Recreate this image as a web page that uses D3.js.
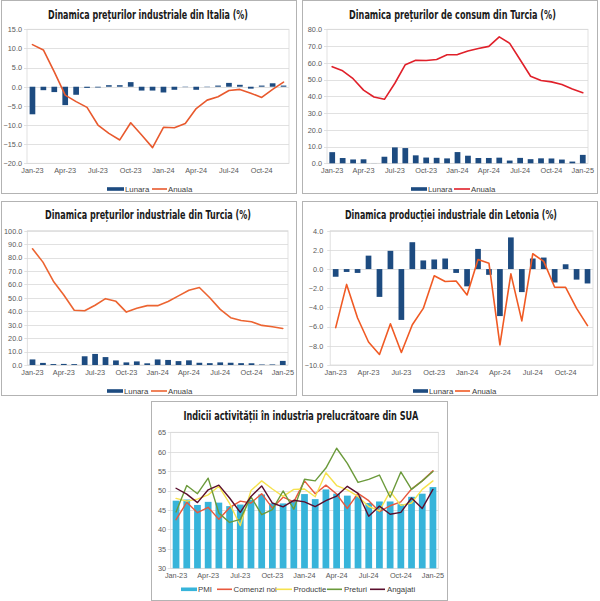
<!DOCTYPE html>
<html>
<head>
<meta charset="utf-8">
<script src="https://cdn.jsdelivr.net/npm/d3@7/dist/d3.min.js"></script>
<style>
  html, body { margin: 0; padding: 0; background: #ffffff; }
  svg { display: block; }
</style>
</head>
<body>
<svg id="chart" width="600" height="601"></svg>
<script>
// ---------- DATA ----------
const catsToDec24 = ["Jan-23","Feb-23","Mar-23","Apr-23","May-23","Jun-23","Jul-23","Aug-23","Sep-23","Oct-23","Nov-23","Dec-23",
  "Jan-24","Feb-24","Mar-24","Apr-24","May-24","Jun-24","Jul-24","Aug-24","Sep-24","Oct-24","Nov-24","Dec-24"];
const catsToJan25 = ["Jan-23","Feb-23","Mar-23","Apr-23","May-23","Jun-23","Jul-23","Aug-23","Sep-23","Oct-23","Nov-23","Dec-23",
  "Jan-24","Feb-24","Mar-24","Apr-24","May-24","Jun-24","Jul-24","Aug-24","Sep-24","Oct-24","Nov-24","Dec-24","Jan-25"];
const tickLabelsToOct24 = ["Jan-23","Apr-23","Jul-23","Oct-23","Jan-24","Apr-24","Jul-24","Oct-24"];
const tickLabelsToJan25 = ["Jan-23","Apr-23","Jul-23","Oct-23","Jan-24","Apr-24","Jul-24","Oct-24","Jan-25"];

// Italia - preturi industriale
const italyLunara = [-7.2,-0.9,-1.4,-4.8,-2.1,-0.3,-0.2,0.4,0.4,1.2,-1.0,-1.0,-1.5,-0.8,-0.1,-0.8,-0.1,0.3,1.0,0.5,-0.5,0.3,0.9,0.3];
const italyAnuala = [11.0,9.6,3.9,-2.2,-3.9,-5.4,-10.0,-12.2,-13.9,-9.4,-12.6,-15.9,-10.6,-10.7,-9.6,-5.7,-3.5,-2.6,-1.0,-0.7,-1.7,-2.8,-0.7,1.2];

// Turcia - preturi de consum
const turCpiLunara = [6.65,3.15,2.29,2.39,0.04,3.92,9.49,9.09,4.75,3.43,3.28,2.93,6.70,4.53,3.16,3.18,3.37,1.64,3.23,2.47,2.97,2.88,2.24,1.03,5.03];
const turCpiAnuala = [57.7,55.2,50.5,43.7,39.6,38.2,47.8,58.9,61.5,61.4,62.0,64.8,64.9,67.1,68.5,69.8,75.5,71.6,61.8,52.0,49.4,48.6,47.1,44.4,42.1];

// Turcia - preturi industriale
const turPpiLunara = [4.15,1.56,0.69,0.81,0.65,6.50,8.23,5.89,3.40,1.94,2.68,1.25,4.14,3.76,2.89,3.48,1.67,1.38,1.94,1.68,1.37,1.29,0.36,0.40,3.06];
const turPpiAnuala = [86.5,76.6,62.4,52.1,40.8,40.4,44.5,49.4,47.4,39.4,42.3,44.2,44.2,47.3,51.5,55.7,57.7,50.1,41.4,35.2,33.1,32.2,29.5,28.5,27.2];

// Letonia - productia industriala
const latviaLunara = [-0.8,-0.3,-0.4,1.4,-2.9,1.9,-5.3,2.8,0.9,1.0,1.1,-0.4,-1.8,2.1,-0.6,-4.9,3.3,-2.4,1.1,1.2,-1.4,0.5,-1.1,-1.5];
const latviaAnuala = [-6.1,-1.6,-5.1,-7.6,-8.9,-5.7,-8.7,-5.8,-4.1,-0.7,-1.3,-1.25,-2.7,1.0,0.6,-7.9,-0.5,-5.4,1.6,0.8,-1.9,-1.9,-4.1,-5.9];

// SUA - industria prelucratoare
const usPMI        = [47.4,47.7,46.3,47.1,46.9,46.0,46.4,47.6,49.0,46.7,46.7,47.4,49.1,47.8,50.3,49.2,48.7,48.5,46.8,47.2,47.2,46.5,48.4,49.2,50.9];
const usComenzi    = [42.5,47.0,44.3,45.7,42.6,45.6,47.3,46.8,49.2,45.5,48.3,47.1,52.5,49.2,51.4,49.1,45.4,49.3,47.4,44.6,46.1,47.1,50.4,52.5,55.1];
const usProductie  = [48.0,47.3,47.8,48.9,51.1,46.7,41.0,50.0,52.5,50.4,48.5,50.3,50.4,48.4,54.6,51.3,50.2,48.5,45.9,44.8,49.8,46.2,46.8,50.3,52.5];
const usPreturi    = [44.5,51.3,49.2,53.2,44.2,41.8,42.6,48.4,43.8,45.1,49.9,45.2,52.9,52.5,55.8,60.9,57.0,52.1,52.9,54.0,48.3,54.8,50.3,52.5,54.9];
const usAngajati   = [50.6,49.1,46.9,50.2,51.4,48.1,44.4,48.5,51.2,46.8,45.8,47.5,47.1,45.9,47.4,48.6,51.1,49.3,43.4,46.0,43.9,44.4,48.1,45.4,50.3];

// ---------- DRAWING ----------
const svg = d3.select("#chart");
const FONT = "'Liberation Sans', Arial, sans-serif";
const TITLE_FONT = "'DejaVu Sans Condensed', 'Liberation Sans Narrow', 'Liberation Sans', sans-serif";
const BAR_BLUE = "#1d4b80";

function drawPanel(cfg) {
  const g = svg.append("g");
  // frame
  g.append("rect")
    .attr("x", cfg.box[0] + 0.5).attr("y", cfg.box[1] + 0.5)
    .attr("width", cfg.box[2] - cfg.box[0]).attr("height", cfg.box[3] - cfg.box[1])
    .attr("fill", "#fff").attr("stroke", "#b3b3b3").attr("stroke-width", 1);

  // title (horizontally condensed to the reference width)
  const tg = g.append("g").attr("transform", `translate(${cfg.titleX},${cfg.titleY})`);
  const tt = tg.append("text")
    .attr("x", 0).attr("y", 0)
    .attr("text-anchor", "middle")
    .attr("font-family", TITLE_FONT).attr("font-weight", "bold")
    .attr("font-size", 13).attr("fill", "#1a1a1a")
    .text(cfg.title);
  const w = tt.node().getComputedTextLength();
  if (w > 0) tt.attr("transform", `scale(${cfg.titleW / w},1)`);

  const y = d3.scaleLinear().domain(cfg.yDomain).range([cfg.bottom, cfg.top]);
  const x = d3.scaleBand().domain(cfg.cats).range([cfg.left, cfg.right]).paddingInner(cfg.pad).paddingOuter(cfg.pad / 2);

  // gridlines
  g.append("g").selectAll("line").data(cfg.yTicks).join("line")
    .attr("x1", cfg.left - 3).attr("x2", cfg.right)
    .attr("y1", d => Math.round(y(d)) + 0.5).attr("y2", d => Math.round(y(d)) + 0.5)
    .attr("stroke", "#d9d9d9").attr("stroke-width", 0.8);
  // plot-area frame
  g.append("rect")
    .attr("x", cfg.left).attr("y", cfg.top)
    .attr("width", cfg.right - cfg.left).attr("height", cfg.bottom - cfg.top)
    .attr("fill", "none").attr("stroke", "#d9d9d9").attr("stroke-width", 0.8);

  // axes
  const ya = g.append("g").attr("transform", `translate(${cfg.left},0)`)
    .call(d3.axisLeft(y).tickValues(cfg.yTicks).tickFormat(cfg.fmt).tickSize(0).tickPadding(cfg.yPad || 5));
  ya.select(".domain").remove();
  ya.selectAll("text").attr("font-size", 7.3).attr("font-family", FONT).attr("fill", "#595959");

  const xa = g.append("g").attr("transform", `translate(0,${cfg.bottom})`)
    .call(d3.axisBottom(x).tickValues(cfg.xTicks).tickSize(0).tickPadding(5));
  xa.select(".domain").remove();
  xa.selectAll("text").attr("font-size", 7.3).attr("font-family", FONT).attr("fill", "#595959");

  // bars
  const base = cfg.barBase;
  g.append("g").selectAll("rect").data(cfg.bars.values).join("rect")
    .attr("x", (d, i) => x(cfg.cats[i]))
    .attr("width", x.bandwidth())
    .attr("y", d => Math.min(y(d), y(base)))
    .attr("height", d => Math.abs(y(d) - y(base)))
    .attr("fill", cfg.bars.color);

  // lines
  const line = d3.line()
    .x((d, i) => x(cfg.cats[i]) + x.bandwidth() / 2)
    .y(d => y(d));
  cfg.lines.forEach(s => {
    g.append("path").datum(s.values)
      .attr("d", line)
      .attr("fill", "none").attr("stroke", s.color)
      .attr("stroke-width", s.width || 1.6)
      .attr("stroke-linejoin", "round").attr("stroke-linecap", "round");
  });

  // legend
  const lg = g.append("g");
  cfg.legend.forEach(it => {
    if (it.type === "bar") {
      lg.append("rect").attr("x", it.sx).attr("y", cfg.legendY - 1.8)
        .attr("width", it.sw).attr("height", 3.6).attr("fill", it.color);
    } else {
      lg.append("line").attr("x1", it.sx).attr("x2", it.sx + it.sw)
        .attr("y1", cfg.legendY).attr("y2", cfg.legendY)
        .attr("stroke", it.color).attr("stroke-width", 1.6);
    }
    lg.append("text").attr("x", it.tx).attr("y", cfg.legendY + 2.7)
      .attr("font-family", FONT).attr("font-size", 7.8).attr("fill", "#404040")
      .text(it.label);
  });
}

const f1 = d3.format(".1f");
const f0 = d3.format("d");

// Panel 1: Italia
drawPanel({
  box: [1, 0, 296, 193],
  title: "Dinamica prețurilor industriale din Italia (%)", titleX: 148, titleY: 18.5, titleW: 200,
  left: 27, right: 289, top: 29.3, bottom: 163.3,
  yDomain: [-20, 15], yTicks: d3.range(-20, 15.01, 5), fmt: f1,
  cats: catsToDec24, xTicks: tickLabelsToOct24, pad: 0.48, barBase: 0,
  bars: { values: italyLunara, color: BAR_BLUE },
  lines: [{ values: italyAnuala, color: "#e8592d" }],
  legendY: 189,
  legend: [
    { type: "bar", color: BAR_BLUE, sx: 107, sw: 17, tx: 125, label: "Lunara" },
    { type: "line", color: "#e8592d", sx: 152, sw: 15, tx: 168, label: "Anuala" }
  ]
});

// Panel 2: Turcia consum
drawPanel({
  box: [302, 0, 597, 193],
  title: "Dinamica prețurilor de consum din Turcia (%)", titleX: 452.5, titleY: 18.5, titleW: 207,
  left: 327, right: 588, top: 29.3, bottom: 163.3,
  yDomain: [0, 80], yTicks: d3.range(0, 80.01, 10), fmt: f1,
  cats: catsToJan25, xTicks: tickLabelsToJan25, pad: 0.45, barBase: 0,
  bars: { values: turCpiLunara, color: BAR_BLUE },
  lines: [{ values: turCpiAnuala, color: "#e0202a" }],
  legendY: 189,
  legend: [
    { type: "bar", color: BAR_BLUE, sx: 411, sw: 16, tx: 428, label: "Lunara" },
    { type: "line", color: "#e0202a", sx: 454, sw: 16, tx: 471, label: "Anuala" }
  ]
});

// Panel 3: Turcia industriale
drawPanel({
  box: [1, 201, 296, 395],
  title: "Dinamica prețurilor industriale din Turcia (%)", titleX: 148, titleY: 219, titleW: 206,
  left: 27.3, right: 288, top: 230.7, bottom: 365,
  yDomain: [0, 100], yTicks: d3.range(0, 100.01, 10), fmt: f1,
  cats: catsToJan25, xTicks: tickLabelsToJan25, pad: 0.45, barBase: 0,
  bars: { values: turPpiLunara, color: BAR_BLUE },
  lines: [{ values: turPpiAnuala, color: "#ec6431" }],
  legendY: 391,
  legend: [
    { type: "bar", color: BAR_BLUE, sx: 107, sw: 16, tx: 124, label: "Lunara" },
    { type: "line", color: "#ec6431", sx: 151, sw: 16, tx: 168, label: "Anuala" }
  ]
});

// Panel 4: Letonia
drawPanel({
  box: [302, 201, 597, 395],
  title: "Dinamica producției industriale din Letonia (%)", titleX: 451, titleY: 219, titleW: 212,
  left: 330.2, right: 593, top: 230.7, bottom: 365, yPad: 7,
  yDomain: [-10, 4], yTicks: d3.range(-10, 4.01, 2), fmt: f1,
  cats: catsToDec24, xTicks: tickLabelsToOct24, pad: 0.48, barBase: 0,
  bars: { values: latviaLunara, color: BAR_BLUE },
  lines: [{ values: latviaAnuala, color: "#f05a24" }],
  legendY: 391,
  legend: [
    { type: "bar", color: BAR_BLUE, sx: 413, sw: 15, tx: 429, label: "Lunara" },
    { type: "line", color: "#f05a24", sx: 455, sw: 15, tx: 472, label: "Anuala" }
  ]
});

// Panel 5: SUA
drawPanel({
  box: [151, 401, 447, 600],
  title: "Indicii activității în industria prelucrătoare din SUA", titleX: 300.8, titleY: 420, titleW: 235,
  left: 170.7, right: 438.3, top: 432.3, bottom: 568.3, yPad: 4.7,
  yDomain: [30, 65], yTicks: d3.range(30, 65.01, 5), fmt: f0,
  cats: catsToJan25, xTicks: tickLabelsToJan25, pad: 0.37, barBase: 30,
  bars: { values: usPMI, color: "#37b4da" },
  lines: [
    { values: usComenzi, color: "#e8583d", width: 1.4 },
    { values: usProductie, color: "#f6e24e", width: 1.4 },
    { values: usPreturi, color: "#6b9a3b", width: 1.4 },
    { values: usAngajati, color: "#5a0e2d", width: 1.4 }
  ],
  legendY: 589.3,
  legend: [
    { type: "bar", color: "#37b4da", sx: 181, sw: 16, tx: 198, label: "PMI" },
    { type: "line", color: "#e8583d", sx: 217, sw: 15, tx: 233.5, label: "Comenzi noi" },
    { type: "line", color: "#f6e24e", sx: 276, sw: 16, tx: 293.5, label: "Productie" },
    { type: "line", color: "#6b9a3b", sx: 327, sw: 15, tx: 344, label: "Preturi" },
    { type: "line", color: "#5a0e2d", sx: 370, sw: 15, tx: 387, label: "Angajati" }
  ]
});
</script>
</body>
</html>
